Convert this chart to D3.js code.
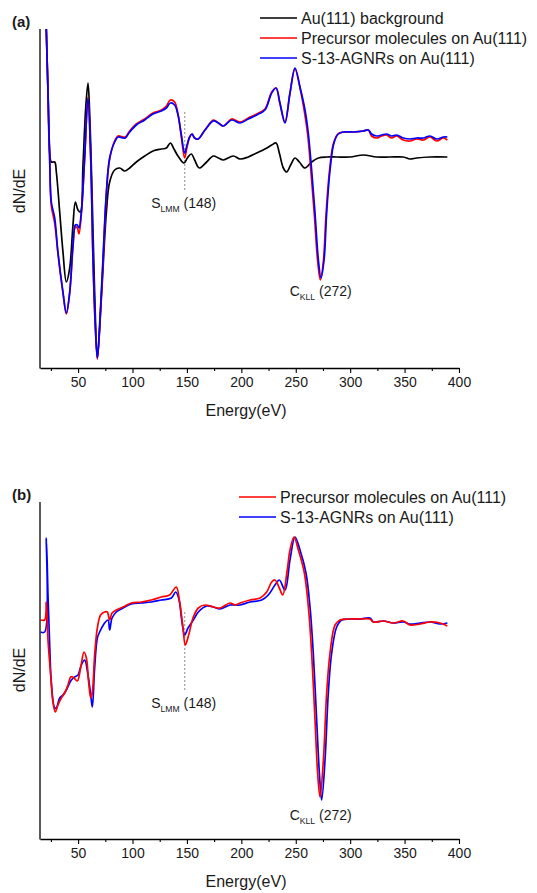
<!DOCTYPE html>
<html>
<head>
<meta charset="utf-8">
<script src="https://cdn.jsdelivr.net/npm/d3@7"></script>
<style>
  body { margin: 0; background: #fff; }
  svg { display: block; font-family: "Liberation Sans", Arial, sans-serif; }
</style>
</head>
<body>
<svg id="chart" width="537" height="893"></svg>
<script>
// ---------------- DATA (energy eV, dN/dE arbitrary units) ----------------
const xTickLabels = [50, 100, 150, 200, 250, 300, 350, 400];
const xMinorTicks = [25, 75, 125, 175, 225, 275, 325, 375];

const legendA = ["Au(111) background", "Precursor molecules on Au(111)", "S-13-AGNRs on Au(111)"];
const legendB = ["Precursor molecules on Au(111)", "S-13-AGNRs on Au(111)"];

// Panel (a)
const aBackground = [[20.0,380],[20.8,338],[22.35,276],[23.9,216],[25.4,206],[28.5,206],[30.0,196],[33.1,156],[36.1,116],[39.2,86],[42.3,100],[45.3,143],[47.5,166],[49.9,158],[52.1,156],[54.5,203],[57.0,260],[59.1,285],[60.6,256],[62.8,176],[65.2,76],[67.7,10],[71.4,70],[76.0,156],[79.0,186],[83.6,198],[88.2,200],[92.8,197],[97.4,200],[103.5,206],[111.2,212],[118.8,217],[126.5,219],[131.1,220],[134.8,225],[138.1,219],[141.8,212],[147.3,205],[150.4,210],[154.0,214],[157.1,208],[160.2,201],[162.0,200],[168.1,206],[174.3,212],[178.9,210],[183.5,208],[192.6,212],[198.8,209],[206.4,211],[214.1,215],[221.7,219],[227.9,223],[231.9,225],[234.9,215],[238.6,200],[241.6,196],[245.3,203],[249.3,210],[253.3,206],[258.5,200],[264.6,206],[270.8,210],[278.4,211],[287.6,211],[299.9,211],[312.1,213],[324.3,211],[336.6,211],[348.8,211],[355.0,209],[361.1,210],[373.4,211],[389.3,211]];

const aPrecursor = [[20.0,380],[20.8,338],[22.35,276],[23.9,208],[25.4,162],[28.5,145],[31.5,114],[36.1,75],[39.2,54],[42.3,75],[45.3,121],[47.5,141],[49.3,140],[50.8,134],[53.0,154],[56.0,209],[59.1,271],[61.6,210],[63.7,108],[65.8,42],[67.7,9],[69.8,40],[72.9,106],[76.0,174],[79.0,209],[83.6,227],[86.7,232],[91.3,231],[93.4,231],[97.4,237],[103.5,244],[111.2,249],[118.8,255],[126.5,258],[131.1,262],[134.8,268],[138.7,266],[141.8,254],[144.9,231],[147.9,210],[150.1,221],[152.5,231],[154.7,234],[157.1,230],[160.3,229],[166.6,238],[174.3,248],[178.9,245],[183.5,242],[191.1,249],[198.8,246],[206.4,250],[214.1,254],[221.7,259],[227.9,276],[231.9,280],[235.5,264],[240.1,246],[244.7,275],[249.3,299],[253.9,280],[258.0,256],[261.0,233],[264.0,196],[267.1,153],[270.2,106],[272.6,88],[275.4,107],[277.8,153],[280.9,196],[284.5,224],[288.6,234],[293.7,236],[302.9,236],[312.1,237],[316.7,238],[319.7,232],[324.3,230],[328.9,232],[333.5,233],[338.1,230],[342.7,232],[348.8,228],[355.0,227],[361.1,229],[367.2,228],[373.4,231],[379.5,227],[385.6,230],[389.3,228]];

const aAGNR = [[20.0,380],[20.8,338],[22.35,276],[23.9,210],[25.4,166],[28.5,150],[31.5,116],[36.1,76],[39.2,55],[42.3,76],[45.3,123],[47.5,143],[49.3,143],[50.8,140],[53.0,156],[56.0,210],[59.1,270],[61.6,210],[63.7,110],[65.8,43],[67.7,10],[69.8,43],[72.9,110],[76.0,176],[79.0,210],[83.6,226],[86.7,231],[91.3,230],[93.4,230],[97.4,236],[103.5,243],[111.2,248],[118.8,254],[126.5,257],[131.1,260],[134.8,265],[138.7,263],[141.8,253],[144.9,233],[147.9,215],[150.1,223],[152.5,231],[154.7,234],[157.1,230],[160.3,229],[166.6,238],[174.3,247],[178.9,245],[183.5,242],[191.1,248],[198.8,245],[206.4,249],[214.1,253],[221.7,258],[227.9,275],[231.9,280],[235.5,265],[240.1,245],[244.7,275],[249.3,300],[253.9,281],[258.5,258],[261.5,235],[264.6,198],[267.7,155],[270.8,108],[273.2,90],[276.0,108],[278.4,155],[281.5,198],[285.1,225],[289.1,234],[293.7,236],[302.9,236],[312.1,237],[316.7,238],[319.7,234],[324.3,232],[328.9,233],[333.5,234],[338.1,232],[342.7,233],[348.8,230],[355.0,229],[361.1,230],[367.2,230],[373.4,232],[379.5,229],[385.6,231],[389.3,231]];

// Panel (b)
const bPrecursor = [[15.6,219],[19.3,219],[20.8,237],[22.35,199],[24.8,164],[26.9,137],[29.1,127],[31.5,134],[34.6,141],[37.7,146],[40.7,154],[43.2,162],[45.3,162],[49.3,158],[52.3,171],[55.4,187],[57.6,181],[59.7,157],[61.6,141],[63.1,147],[65.2,184],[67.7,211],[70.7,224],[74.4,227],[76.8,227],[79.0,219],[81.2,226],[85.1,229],[91.3,232],[98.9,236],[108.1,237],[117.3,239],[126.5,242],[134.1,244],[140.2,252],[143.3,237],[146.4,211],[148.5,194],[151.6,204],[155.9,222],[160.5,231],[166.6,234],[174.3,232],[180.4,231],[189.6,236],[194.2,234],[198.8,236],[208.0,239],[217.2,241],[223.3,247],[227.9,257],[230.9,259],[234.9,251],[238.0,244],[242.2,269],[244.7,289],[248.4,302],[252.4,289],[257.9,266],[261.6,232],[264.6,186],[267.7,119],[270.1,66],[272.3,42],[275.4,79],[278.4,146],[281.5,186],[286.1,214],[290.7,219],[299.8,220],[309.0,220],[318.2,220],[321.3,217],[330.5,218],[339.6,216],[348.8,218],[355.0,214],[364.2,215],[373.4,217],[382.5,216],[389.3,213]];

const bAGNR = [[15.6,207],[19.3,207],[20.8,301],[22.35,244],[23.9,194],[25.4,157],[28.5,131],[30.0,131],[33.1,141],[36.1,144],[39.2,149],[43.8,159],[46.9,162],[49.9,164],[53.0,174],[56.0,179],[59.1,164],[61.6,144],[63.1,132],[65.2,171],[67.7,201],[69.8,207],[74.4,216],[77.5,219],[79.0,209],[81.2,221],[85.1,227],[91.3,231],[98.9,235],[108.1,236],[117.3,237],[126.5,239],[135.7,241],[139.7,247],[142.4,241],[145.5,217],[147.9,204],[151.0,211],[155.9,219],[160.5,227],[168.2,233],[174.3,232],[180.4,230],[189.6,234],[198.8,234],[208.0,237],[218.7,239],[224.8,244],[230.9,254],[234.9,259],[240.1,249],[244.7,279],[249.3,302],[253.9,289],[259.4,266],[263.1,232],[266.1,186],[269.2,119],[271.7,66],[273.8,39],[276.9,79],[279.9,146],[283.0,186],[287.6,212],[292.2,219],[299.8,220],[309.0,220],[318.2,221],[321.3,217],[330.5,218],[339.6,216],[348.8,217],[355.0,215],[364.2,216],[373.4,217],[382.5,215],[389.3,216]];

// Annotations
const peakS = 148, peakC = 272;

// ---------------- DRAW ----------------
const svg = d3.select("#chart");
const x = d3.scaleLinear().domain([15, 400]).range([40, 459]);

function panel(cfg) {
  const y = d3.scaleLinear().domain(cfg.yDomain).range([cfg.bottom, cfg.top]);
  const g = svg.append("g");
  const clipId = "clip" + cfg.id;
  svg.append("defs").append("clipPath").attr("id", clipId)
    .append("rect").attr("x", 40).attr("y", cfg.top).attr("width", 425).attr("height", cfg.bottom - cfg.top);

  // dashed marker line at S_LMM
  g.append("line")
    .attr("x1", x(peakS)).attr("x2", x(peakS))
    .attr("y1", y(cfg.dashTop)).attr("y2", y(cfg.dashBottom))
    .attr("stroke", "#8c8c8c").attr("stroke-width", 1).attr("stroke-dasharray", "2,2");

  const line = d3.line().x(d => x(d[0])).y(d => y(d[1])).curve(d3.curveCatmullRom.alpha(0.5));
  const curves = g.append("g").attr("clip-path", `url(#${clipId})`);
  cfg.series.forEach(s => {
    curves.append("path").datum(s.data)
      .attr("d", line).attr("fill", "none")
      .attr("stroke", s.color).attr("stroke-width", 1.7)
      .attr("stroke-linejoin", "round");
  });

  // axes
  const ax = g.append("g").attr("transform", `translate(0,${cfg.bottom})`)
    .call(d3.axisBottom(x).tickValues(xTickLabels).tickSize(5).tickSizeOuter(0).tickPadding(4).tickFormat(d3.format("d")));
  ax.select(".domain").attr("stroke", "#000").attr("stroke-width", 1.3);
  ax.selectAll(".tick line").attr("stroke", "#000").attr("stroke-width", 1.1);
  ax.selectAll(".tick text").attr("font-size", 14).attr("fill", "#1a1a1a")
    .attr("font-family", '"Liberation Sans", Arial, sans-serif');
  const mn = g.append("g").attr("transform", `translate(0,${cfg.bottom})`)
    .call(d3.axisBottom(x).tickValues(xMinorTicks).tickSize(3).tickSizeOuter(0).tickFormat(""));
  mn.select(".domain").remove();
  mn.selectAll(".tick line").attr("stroke", "#000").attr("stroke-width", 1.1);

  g.append("line").attr("x1", 40).attr("x2", 40).attr("y1", cfg.top).attr("y2", cfg.bottom + 0.6)
    .attr("stroke", "#000").attr("stroke-width", 1.3);

  g.append("text").attr("x", 246).attr("y", cfg.bottom + 48)
    .attr("text-anchor", "middle").attr("font-size", 16).attr("fill", "#1a1a1a").text("Energy(eV)");
  g.append("text").attr("transform", `translate(25,${cfg.yTitleY}) rotate(-90)`)
    .attr("text-anchor", "middle").attr("font-size", 16).attr("fill", "#1a1a1a").text("dN/dE");

  g.append("text").attr("x", 12).attr("y", cfg.top - 2)
    .attr("font-size", 15).attr("font-weight", "bold").attr("fill", "#1a1a1a").text(cfg.label);

  // peak labels
  function peakLabel(xc, yv, main, sub, tail) {
    const t = g.append("text").attr("x", xc).attr("y", y(yv))
      .attr("text-anchor", "middle").attr("font-size", 14).attr("fill", "#1a1a1a");
    t.append("tspan").text(main);
    t.append("tspan").attr("font-size", 8.6).attr("dy", 4).text(sub);
    t.append("tspan").attr("dy", -4).text(" " + tail);
  }
  peakLabel(x(peakS) - 1, cfg.sLabelV, "S", "LMM", `(${peakS})`);
  peakLabel(x(peakC) + 1, cfg.cLabelV, "C", "KLL", `(${peakC})`);

  // legend
  const lg = g.append("g");
  cfg.legend.forEach((name, i) => {
    const ly = cfg.legendY + i * 20;
    lg.append("line").attr("x1", cfg.legendX).attr("x2", cfg.legendX + 37)
      .attr("y1", ly).attr("y2", ly).attr("stroke", cfg.legendColors[i]).attr("stroke-width", 1.7);
    lg.append("text").attr("x", cfg.legendX + 41).attr("y", ly).attr("dy", "0.36em")
      .attr("font-size", 16).attr("fill", "#1a1a1a").text(name);
  });
}

panel({
  id: "a", label: "(a)", top: 29, bottom: 368, yDomain: [0, 339], yTitleY: 191,
  dashTop: 256, dashBottom: 176, sLabelV: 160, cLabelV: 72,
  series: [
    { data: aBackground, color: "#000000" },
    { data: aPrecursor, color: "#ff0000" },
    { data: aAGNR, color: "#0000ff" }
  ],
  legend: legendA, legendColors: ["#000000", "#ff0000", "#0000ff"], legendX: 260, legendY: 18
});

panel({
  id: "b", label: "(b)", top: 502, bottom: 839, yDomain: [0, 337], yTitleY: 670,
  dashTop: 227, dashBottom: 147, sLabelV: 131, cLabelV: 19,
  series: [
    { data: bAGNR, color: "#0000ff" },
    { data: bPrecursor, color: "#ff0000" }
  ],
  legend: legendB, legendColors: ["#ff0000", "#0000ff"], legendX: 239, legendY: 497
});
</script>
</body>
</html>
